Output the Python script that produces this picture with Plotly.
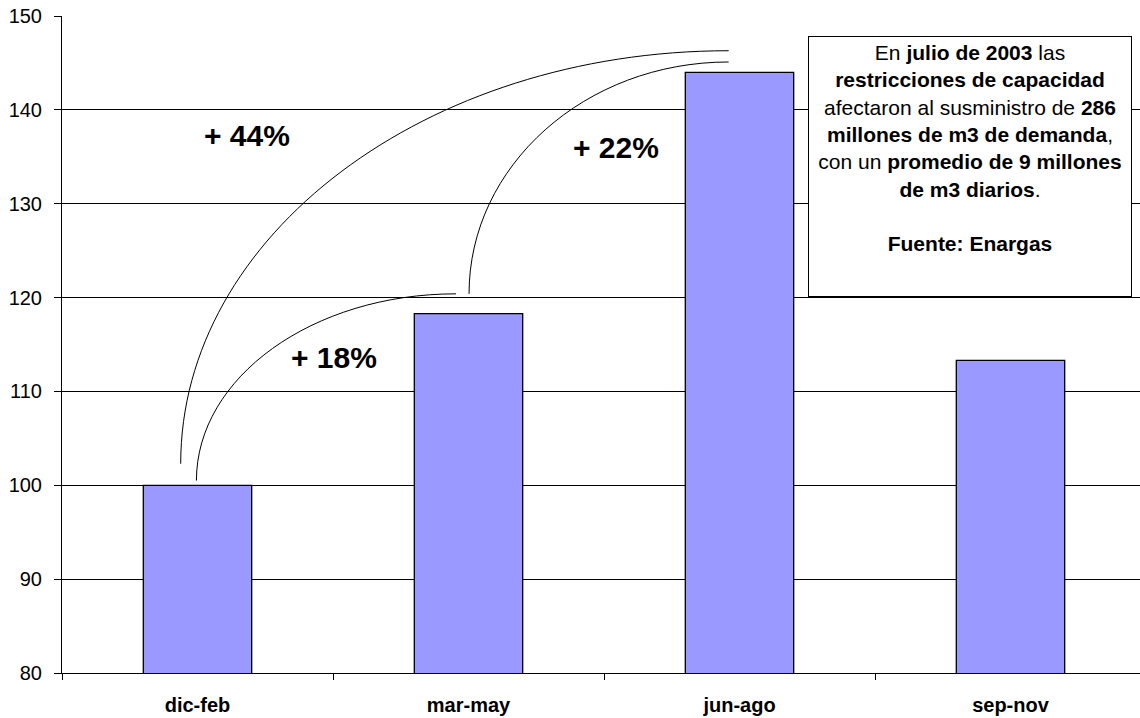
import plotly.graph_objects as go

# ---- data ----
categories = ["dic-feb", "mar-may", "jun-ago", "sep-nov"]
values = [100, 118.3, 144, 113.3]
y_ticks = [80, 90, 100, 110, 120, 130, 140, 150]

# growth labels
growth_labels = ["+ 44%", "+ 22%", "+ 18%"]
growth_x = [0.181, 1.544, 0.502]
growth_y = [137.3, 136.0, 113.6]

# arcs (start point with vertical tangent -> end point with horizontal tangent)
arc_x0 = [-0.062, -0.004, 1.002]
arc_y0 = [102.3, 100.5, 120.4]
arc_x1 = [1.960, 0.954, 1.960]
arc_y1 = [146.3, 120.4, 145.1]

note_text = ("En <b>julio de 2003</b> las<br>"
             "<b>restricciones de capacidad</b><br>"
             "afectaron al susministro de <b>286</b><br>"
             "<b>millones de m3 de demanda</b>,<br>"
             "con un <b>promedio de 9 millones</b><br>"
             "<b>de m3 diarios</b>.<br><br>"
             "<b>Fuente: Enargas</b>")

FONT = "Liberation Sans, Arial, sans-serif"
xpos = list(range(len(categories)))

fig = go.Figure()
fig.add_trace(go.Bar(
    x=xpos, y=values, width=0.4,
    marker=dict(color="#9999FF", line=dict(color="#000000", width=1.3)),
    showlegend=False, hoverinfo="skip"))

shapes = []
k = 0.5523
for x0, y0, x1, y1 in zip(arc_x0, arc_y0, arc_x1, arc_y1):
    c1x, c1y = x0, y0 + k * (y1 - y0)
    c2x, c2y = x1 - k * (x1 - x0), y1
    path = f"M {x0},{y0} C {c1x},{c1y} {c2x},{c2y} {x1},{y1}"
    shapes.append(dict(type="path", xref="x", yref="y", path=path,
                       line=dict(color="#000000", width=1)))

annotations = []
for t, gx, gy in zip(growth_labels, growth_x, growth_y):
    annotations.append(dict(x=gx, y=gy, xref="x", yref="y", text=f"<b>{t}</b>",
                            showarrow=False, font=dict(size=30, color="#000000", family=FONT)))

annotations.append(dict(
    x=(970 - 62) / 1078, y=(673 - 166) / 657, xref="paper", yref="paper",
    xanchor="center", yanchor="middle",
    text=note_text, showarrow=False, align="center", valign="top",
    width=314, height=251, borderpad=4,
    bgcolor="#FFFFFF", bordercolor="#000000", borderwidth=1,
    font=dict(size=21, color="#000000", family=FONT)))

fig.update_layout(
    width=1140, height=718,
    margin=dict(l=62, r=0, t=16, b=45),
    paper_bgcolor="#FFFFFF", plot_bgcolor="#FFFFFF",
    font=dict(family=FONT, color="#000000"),
    shapes=shapes, annotations=annotations,
    xaxis=dict(
        range=[-0.5, 3.5 - 6 / 271],
        tickmode="array", tickvals=xpos,
        ticktext=[f"<b>{c}</b>" for c in categories],
        ticks="", showgrid=False, zeroline=False,
        showline=True, linecolor="#000000", linewidth=1,
        tickfont=dict(size=20, color="#000000", family=FONT),
        ticklabelstandoff=14,
        minor=dict(tickmode="array", tickvals=[-0.5, 0.5, 1.5, 2.5],
                   ticks="outside", ticklen=6, tickcolor="#000000", tickwidth=1,
                   showgrid=False),
    ),
    yaxis=dict(
        range=[80, 150], tickmode="array", tickvals=y_ticks,
        ticks="outside", ticklen=7, tickcolor="#000000", tickwidth=1,
        showgrid=True, gridcolor="#000000", gridwidth=1,
        zeroline=False, showline=True, linecolor="#000000", linewidth=1,
        tickfont=dict(size=20, color="#000000", family=FONT),
        ticklabelstandoff=8,
    ),
)

fig.write_html("out.html")
